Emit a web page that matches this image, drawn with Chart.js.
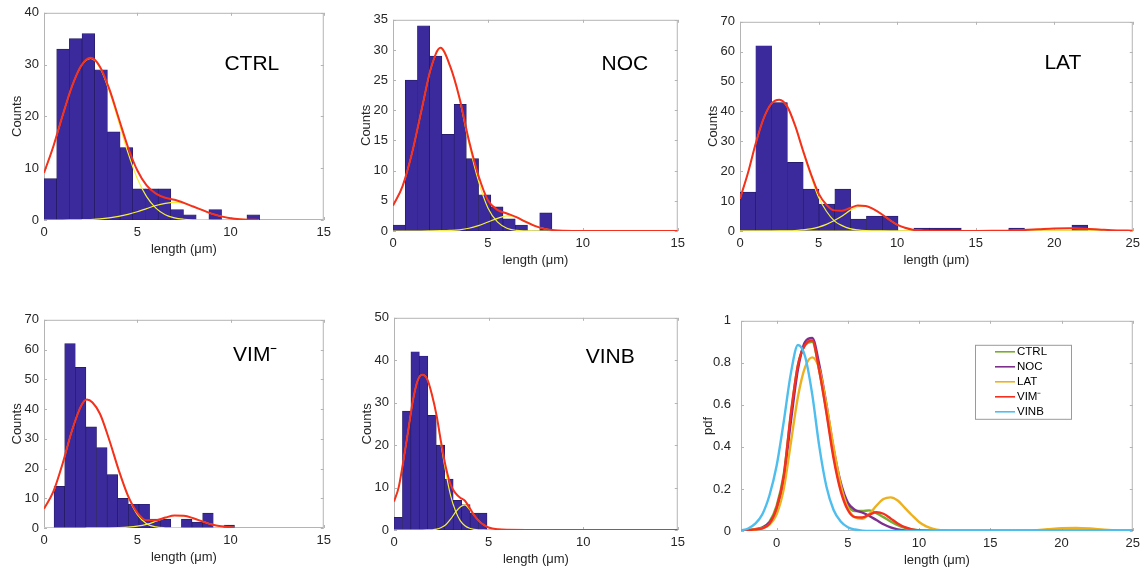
<!DOCTYPE html>
<html>
<head>
<meta charset="utf-8">
<script src="https://cdn.jsdelivr.net/npm/chart.js@4.4.0/dist/chart.umd.min.js"></script>
<style>
  body { margin: 0; background: #fff; }
  #wrap { position: relative; width: 1146px; height: 575px; overflow: hidden; }
  #wrap canvas { position: absolute; }
</style>
</head>
<body>
<div id="wrap">
  <canvas id="ctrlChart" width="336" height="260" style="left:0px;top:0px"></canvas>
  <canvas id="nocChart" width="341" height="264" style="left:349px;top:7px"></canvas>
  <canvas id="latChart" width="449" height="262" style="left:696px;top:9px"></canvas>
  <canvas id="vimChart" width="336" height="261" style="left:0px;top:307px"></canvas>
  <canvas id="vinbChart" width="340" height="265" style="left:350px;top:305px"></canvas>
  <canvas id="pdfChart" width="448" height="268" style="left:697px;top:303px"></canvas>
</div>
<script>
// ---- histogram counts (bins of equal width, start / width in um) ----
const ctrlCounts = [8, 33, 35, 36, 29, 17, 14, 6, 6, 6, 2, 1, 0, 2, 0, 0, 1];
const ctrlBins = [0, 0.68];
const nocCounts = [1, 25, 34, 29, 16, 21, 12, 6, 4, 2, 1, 0, 3];
const nocBins = [0, 0.644];
const latCounts = [13, 62, 43, 23, 14, 9, 14, 4, 5, 5, 0, 1, 1, 1, 0, 0, 0, 1, 0, 0, 0, 2];
const latBins = [0, 1.006];
const vimCounts = [14, 62, 54, 34, 27, 18, 10, 8, 8, 3, 3, 0, 3, 2, 5, 0, 1];
const vimBins = [0.54, 0.569];
const vinbCounts = [3, 28, 42, 41, 27, 20, 12, 7, 6, 4, 4];
const vinbBins = [0, 0.447];

// ---- fitted mixtures (red) and their components (yellow) ----
const ctrlX     = [0, 0.5, 1, 1.5, 2, 2.5, 3, 3.5, 4, 4.5, 5, 5.5, 6, 6.5, 7, 7.5, 8, 8.5, 9, 9.5, 10, 10.5, 11, 11.5];
const ctrlFit   = [9.1, 14.2, 20.2, 25.8, 29.8, 31.3, 29.6, 25.3, 19.7, 14.1, 9.6, 6.7, 5.1, 4.3, 3.9, 3.3, 2.6, 1.9, 1.2, 0.7, 0.35, 0.15, 0.06, 0.02];
const ctrlComp1 = [9.1, 14.2, 20.2, 25.8, 29.8, 31.2, 29.4, 24.9, 19.0, 13.0, 8.0, 4.5, 2.3, 1.0, 0.4, 0.15, 0.05, 0.02, 0, 0, 0, 0, 0, 0];
const ctrlComp2 = [0, 0, 0, 0.02, 0.05, 0.1, 0.2, 0.4, 0.7, 1.1, 1.6, 2.2, 2.8, 3.2, 3.4, 3.2, 2.6, 1.9, 1.2, 0.7, 0.35, 0.15, 0.06, 0.02];

const nocX     = [0, 0.5, 1, 1.5, 2, 2.5, 3, 3.5, 4, 4.5, 5, 5.5, 6, 6.5, 7, 7.5, 8, 8.5, 9, 10, 12, 15];
const nocFit   = [4.2, 7.4, 12.9, 20.0, 27.0, 30.35, 27.4, 22.1, 15.0, 9.2, 5.1, 3.5, 2.9, 2.3, 1.5, 0.8, 0.35, 0.12, 0.04, 0, 0, 0];
const nocComp1 = [4.2, 7.4, 12.9, 20.0, 27.0, 30.3, 27.3, 21.9, 14.5, 8.3, 3.8, 1.5, 0.45, 0.1, 0.02, 0, 0, 0, 0, 0, 0, 0];
const nocComp2 = [0, 0, 0, 0, 0.02, 0.05, 0.1, 0.2, 0.45, 0.9, 1.5, 2.1, 2.5, 2.3, 1.6, 0.85, 0.35, 0.12, 0.04, 0, 0, 0];

const latX     = [0, 0.5, 1, 1.5, 2, 2.5, 3, 3.5, 4, 4.5, 5, 5.5, 6, 6.5, 7, 7.5, 8, 8.5, 9, 9.5, 10, 10.5, 11, 11.5, 12, 13, 14, 15, 16, 17, 18, 19, 20, 21, 22, 23, 24, 25];
const latFit   = [10.8, 19.3, 29.3, 37.6, 42.6, 43.9, 41.7, 35.4, 27.1, 19.3, 12.6, 8.8, 6.9, 6.8, 7.7, 8.5, 8.4, 7.3, 5.7, 3.8, 2.1, 1.1, 0.45, 0.2, 0.08, 0.02, 0.01, 0.02, 0.05, 0.12, 0.3, 0.55, 0.8, 0.9, 0.75, 0.45, 0.2, 0.1];
const latComp1 = [10.8, 19.3, 29.3, 37.6, 42.6, 43.9, 41.6, 35.2, 26.7, 18.6, 11.3, 6.6, 3.4, 1.8, 0.8, 0.35, 0.12, 0.04, 0.01, 0, 0, 0, 0, 0, 0, 0, 0, 0, 0, 0, 0, 0, 0, 0, 0, 0, 0, 0];
const latComp2 = [0, 0, 0, 0, 0, 0.01, 0.05, 0.15, 0.4, 0.7, 1.3, 2.2, 3.5, 5.0, 6.9, 8.1, 8.3, 7.3, 5.7, 3.8, 2.1, 1.1, 0.45, 0.2, 0.08, 0.02, 0, 0, 0, 0, 0, 0, 0, 0, 0, 0, 0, 0];
const latComp3 = [0, 0, 0, 0, 0, 0, 0, 0, 0, 0, 0, 0, 0, 0, 0, 0, 0, 0, 0, 0, 0, 0, 0, 0, 0, 0, 0.01, 0.02, 0.05, 0.12, 0.3, 0.55, 0.8, 0.9, 0.75, 0.45, 0.2, 0.1];

const vimX     = [0, 0.5, 1, 1.5, 2, 2.3, 2.6, 3, 3.5, 4, 4.5, 5, 5.5, 6, 6.5, 7, 7.5, 8, 8.5, 9, 9.5, 10, 10.2];
const vimFit   = [6.5, 12.2, 21.7, 32.8, 41.2, 43.2, 42.2, 38.4, 29.6, 19.6, 10.9, 5.2, 2.6, 2.6, 3.5, 4.2, 4.1, 3.3, 2.2, 1.2, 0.6, 0.25, 0.18];
const vimComp1 = [6.5, 12.2, 21.7, 32.8, 41.2, 43.2, 42.2, 38.4, 29.5, 19.4, 10.6, 4.6, 1.4, 0.35, 0.07, 0.01, 0, 0, 0, 0, 0, 0, 0];
const vimComp2 = [0, 0, 0, 0, 0, 0.01, 0.02, 0.03, 0.07, 0.15, 0.3, 0.6, 1.2, 2.25, 3.4, 4.2, 4.1, 3.3, 2.2, 1.2, 0.6, 0.25, 0.18];

const vinbX     = [0, 0.25, 0.5, 0.75, 1, 1.25, 1.5, 1.75, 2, 2.25, 2.5, 2.75, 3, 3.25, 3.5, 3.75, 4, 4.25, 4.5, 4.75, 5, 5.5, 6, 7, 10, 15];
const vinbFit   = [6.7, 10.1, 16.4, 23.4, 30.5, 35.2, 36.6, 35.6, 32.0, 27.0, 20.4, 14.6, 10.6, 8.7, 7.6, 6.9, 5.2, 3.4, 2.1, 1.2, 0.6, 0.15, 0.03, 0, 0, 0];
const vinbComp1 = [6.7, 10.1, 16.4, 23.4, 30.5, 35.2, 36.6, 35.6, 32.0, 26.8, 19.8, 13.3, 8.0, 4.5, 2.2, 1.0, 0.4, 0.15, 0.05, 0.01, 0, 0, 0, 0, 0, 0];
const vinbComp2 = [0, 0, 0, 0, 0, 0, 0, 0.01, 0.05, 0.2, 0.6, 1.3, 2.6, 4.2, 5.4, 5.9, 4.8, 3.4, 2.1, 1.2, 0.6, 0.15, 0.03, 0, 0, 0];

// ---- pdf comparison panel ----
const pdfX    = [-2.5, -2, -1.5, -1, -0.5, 0, 0.5, 1, 1.5, 2, 2.5, 3, 3.5, 4, 4.5, 5, 5.5, 6, 6.5, 7, 7.5, 8, 8.5, 9, 9.5, 10, 10.5, 11, 11.5, 12, 13, 14, 15, 16, 17, 18, 19, 20, 21, 22, 23, 24, 25];
const pdfCtrl = [0.002, 0.004, 0.009, 0.018, 0.045, 0.12, 0.27, 0.55, 0.79, 0.885, 0.9, 0.76, 0.57, 0.36, 0.2, 0.12, 0.095, 0.095, 0.098, 0.085, 0.066, 0.045, 0.028, 0.015, 0.008, 0.004, 0.002, 0.001, 0, 0, 0, 0, 0, 0, 0, 0, 0, 0, 0, 0, 0, 0, 0];
const pdfNoc  = [0.002, 0.004, 0.008, 0.015, 0.04, 0.1, 0.25, 0.52, 0.77, 0.9, 0.918, 0.79, 0.6, 0.39, 0.23, 0.135, 0.1, 0.088, 0.072, 0.052, 0.032, 0.017, 0.008, 0.003, 0.001, 0, 0, 0, 0, 0, 0, 0, 0, 0, 0, 0, 0, 0, 0, 0, 0, 0, 0];
const pdfLat  = [0.002, 0.004, 0.007, 0.013, 0.03, 0.08, 0.2, 0.42, 0.64, 0.78, 0.826, 0.77, 0.6, 0.4, 0.22, 0.11, 0.065, 0.058, 0.08, 0.12, 0.152, 0.16, 0.145, 0.11, 0.075, 0.043, 0.022, 0.01, 0.004, 0.002, 0, 0, 0, 0, 0.001, 0.003, 0.008, 0.013, 0.015, 0.012, 0.006, 0.002, 0.001];
const pdfVim  = [0.002, 0.004, 0.008, 0.013, 0.035, 0.11, 0.26, 0.56, 0.79, 0.885, 0.907, 0.76, 0.56, 0.345, 0.19, 0.1, 0.066, 0.064, 0.078, 0.089, 0.082, 0.06, 0.036, 0.018, 0.008, 0.003, 0.001, 0, 0, 0, 0, 0, 0, 0, 0, 0, 0, 0, 0, 0, 0, 0, 0];
const pdfVinb = [0.003, 0.012, 0.035, 0.08, 0.17, 0.31, 0.52, 0.75, 0.885, 0.83, 0.65, 0.4, 0.21, 0.1, 0.045, 0.018, 0.007, 0.002, 0, 0, 0, 0, 0, 0, 0, 0, 0, 0, 0, 0, 0, 0, 0, 0, 0, 0, 0, 0, 0, 0, 0, 0, 0];
const pdfLabels = ['CTRL', 'NOC', 'LAT', 'VIM\u207B', 'VINB'];
const pdfXTicks = [0, 5, 10, 15, 20, 25];

// ---- styling ----
const FONT = 'Liberation Sans, Arial, Helvetica, sans-serif';
const BAR_FILL = '#3a2a9c';
const BAR_EDGE = '#231a5e';
const RED = '#f5301e';
const YELLOW = '#f4f03a';
const PDF_COLORS = ['#77ac30', '#7e2f8e', '#edb120', '#f5301e', '#4dbeee'];

Chart.defaults.font.family = FONT;
Chart.defaults.font.size = 13;
Chart.defaults.color = '#262626';
Chart.defaults.animation = false;

// MATLAB-style frame with small inward ticks on all four sides
const boxPlugin = {
  id: 'axesBox',
  beforeDatasetsDraw(chart) {
    const { ctx, chartArea: a, scales } = chart;
    ctx.save();
    ctx.strokeStyle = '#b4b4b4';
    ctx.lineWidth = 1;
    ctx.strokeRect(a.left + 0.5, a.top + 0.5, a.right - a.left - 1, a.bottom - a.top - 1);
    ctx.beginPath();
    scales.x.ticks.forEach(t => {
      const px = Math.round(scales.x.getPixelForValue(t.value)) + 0.5;
      ctx.moveTo(px, a.bottom); ctx.lineTo(px, a.bottom - 3);
      ctx.moveTo(px, a.top); ctx.lineTo(px, a.top + 3);
    });
    scales.y.ticks.forEach(t => {
      const py = Math.round(scales.y.getPixelForValue(t.value)) + 0.5;
      ctx.moveTo(a.left, py); ctx.lineTo(a.left + 3, py);
      ctx.moveTo(a.right, py); ctx.lineTo(a.right - 3, py);
    });
    ctx.stroke();
    ctx.restore();
  }
};

// big condition label inside each histogram
const labelPlugin = {
  id: 'panelLabel',
  afterDraw(chart, args, opts) {
    if (!opts.text) return;
    const { ctx, chartArea: a } = chart;
    ctx.save();
    ctx.font = '21px ' + FONT;
    ctx.fillStyle = '#000';
    ctx.textAlign = 'center';
    ctx.textBaseline = 'middle';
    ctx.fillText(opts.text, a.left + opts.fx * (a.right - a.left), a.top + opts.fy * (a.bottom - a.top));
    ctx.restore();
  }
};

// boxed legend sitting inside the pdf axes
const legendBoxPlugin = {
  id: 'legendBox',
  afterDraw(chart, args, opts) {
    if (opts.dx === undefined) return;
    const { ctx, chartArea: a } = chart;
    const x0 = a.left + opts.dx, y0 = a.top + opts.dy;
    ctx.save();
    ctx.fillStyle = '#fff';
    ctx.fillRect(x0, y0, opts.w, opts.h);
    ctx.strokeStyle = '#9a9a9a';
    ctx.lineWidth = 1;
    ctx.strokeRect(x0 + 0.5, y0 + 0.5, opts.w, opts.h);
    ctx.font = '11.5px ' + FONT;
    ctx.textBaseline = 'middle';
    chart.data.datasets.forEach((ds, i) => {
      const y = y0 + 7 + i * 15;
      ctx.strokeStyle = ds.borderColor;
      ctx.lineWidth = 1.6;
      ctx.beginPath();
      ctx.moveTo(x0 + 20, y);
      ctx.lineTo(x0 + 40, y);
      ctx.stroke();
      ctx.fillStyle = '#000';
      ctx.fillText(ds.label, x0 + 42, y);
    });
    ctx.restore();
  }
};

function pts(xs, ys) {
  return xs.map((x, i) => ({ x: x, y: ys[i] }));
}

function curve(data, color, width, order) {
  return {
    type: 'line', data: data, borderColor: color, borderWidth: width,
    pointRadius: 0, cubicInterpolationMode: 'monotone', fill: false, order: order
  };
}

function histChart(id, cfg) {
  const bars = cfg.counts.map((c, i) => ({ x: cfg.bins[0] + (i + 0.5) * cfg.bins[1], y: c }));
  const datasets = [curve(pts(cfg.x, cfg.fit), RED, 2, 0)];
  cfg.comps.forEach(c => datasets.push(curve(pts(cfg.x, c), YELLOW, 1.2, 1)));
  datasets.push({
    type: 'bar', data: bars, backgroundColor: BAR_FILL, borderColor: BAR_EDGE,
    borderWidth: 0.7, borderSkipped: false, barPercentage: 1, categoryPercentage: 1, order: 2
  });

  return new Chart(document.getElementById(id), {
    type: 'bar',
    data: { datasets: datasets },
    plugins: [boxPlugin, labelPlugin],
    options: {
      responsive: false,
      layout: { padding: { top: 12, right: 12, left: 0, bottom: 0 } },
      plugins: {
        legend: { display: false },
        tooltip: { enabled: false },
        panelLabel: { text: cfg.label, fx: cfg.fx, fy: cfg.fy }
      },
      scales: {
        x: {
          type: 'linear', min: 0, max: cfg.xMax, offset: false,
          ticks: { stepSize: 5, padding: 5, maxRotation: 0 },
          grid: { display: false, drawTicks: false, offset: false },
          border: { display: false },
          title: { display: true, text: 'length (\u03BCm)', padding: { top: 0, bottom: 3 } },
          afterFit: s => { s.height = 40; }
        },
        y: {
          min: 0, max: cfg.yMax,
          ticks: { stepSize: cfg.yStep, padding: 5 },
          grid: { display: false, drawTicks: false },
          border: { display: false },
          title: { display: true, text: 'Counts', padding: { top: 10, bottom: 0 } },
          afterFit: s => { s.width = 44; }
        }
      }
    }
  });
}

histChart('ctrlChart', { counts: ctrlCounts, bins: ctrlBins, x: ctrlX, fit: ctrlFit, comps: [ctrlComp1, ctrlComp2],
  xMax: 15, yMax: 40, yStep: 10, label: 'CTRL', fx: 0.743, fy: 0.248 });
histChart('nocChart', { counts: nocCounts, bins: nocBins, x: nocX, fit: nocFit, comps: [nocComp1, nocComp2],
  xMax: 15, yMax: 35, yStep: 5, label: 'NOC', fx: 0.814, fy: 0.208 });
histChart('latChart', { counts: latCounts, bins: latBins, x: latX, fit: latFit, comps: [latComp1, latComp2, latComp3],
  xMax: 25, yMax: 70, yStep: 10, label: 'LAT', fx: 0.822, fy: 0.2 });
histChart('vimChart', { counts: vimCounts, bins: vimBins, x: vimX, fit: vimFit, comps: [vimComp1, vimComp2],
  xMax: 15, yMax: 70, yStep: 10, label: 'VIM\u207B', fx: 0.755, fy: 0.172 });
histChart('vinbChart', { counts: vinbCounts, bins: vinbBins, x: vinbX, fit: vinbFit, comps: [vinbComp1, vinbComp2],
  xMax: 15, yMax: 50, yStep: 10, label: 'VINB', fx: 0.762, fy: 0.185 });

// pdf overlay: later series drawn on top, as in the original
const pdfSeries = [pdfCtrl, pdfNoc, pdfLat, pdfVim, pdfVinb];
new Chart(document.getElementById('pdfChart'), {
  type: 'line',
  data: {
    datasets: pdfSeries.map((s, i) => Object.assign(curve(pts(pdfX, s), PDF_COLORS[i], 2.4, 5 - i), { label: pdfLabels[i] }))
  },
  plugins: [boxPlugin, legendBoxPlugin],
  options: {
    responsive: false,
    layout: { padding: { top: 12, right: 12, left: 0, bottom: 0 } },
    plugins: {
      legend: { display: false },
      tooltip: { enabled: false },
      legendBox: { dx: 234, dy: 24, w: 96, h: 74 }
    },
    scales: {
      x: {
        type: 'linear', min: -2.5, max: 25,
        ticks: { padding: 5, maxRotation: 0, autoSkip: false },
        afterBuildTicks: axis => { axis.ticks = pdfXTicks.map(v => ({ value: v })); },
        grid: { display: false, drawTicks: false },
        border: { display: false },
        title: { display: true, text: 'length (\u03BCm)', padding: { top: 0, bottom: 3 } },
        afterFit: s => { s.height = 40; }
      },
      y: {
        min: 0, max: 1,
        ticks: { stepSize: 0.2, padding: 10, callback: v => String(+v.toFixed(2)) },
        grid: { display: false, drawTicks: false },
        border: { display: false },
        title: { display: true, text: 'pdf', padding: { top: 4, bottom: 0 } },
        afterFit: s => { s.width = 44; }
      }
    }
  }
});
</script>
</body>
</html>
